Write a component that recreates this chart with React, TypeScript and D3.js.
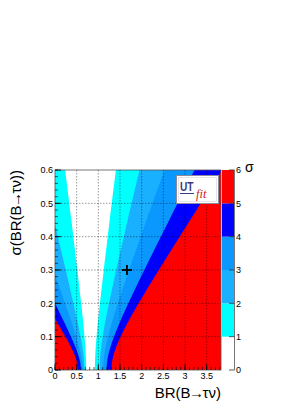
import React from "react";
import * as d3 from "d3";

// sigma-level contour boundaries (x = BR in 1e-4)
const yLevels = [0, 0.025, 0.05, 0.075, 0.1, 0.15, 0.2, 0.3, 0.45, 0.6];
const left1 = [0.72, 0.717, 0.709, 0.697, 0.681, 0.645, 0.603, 0.515, 0.377, 0.235];
const right1 = [0.92, 0.923, 0.931, 0.943, 0.959, 0.995, 1.037, 1.125, 1.263, 1.405];
const left2 = [0.68, 0.673, 0.652, 0.623, 0.588, 0.509, 0.424, 0.248, -0.024, -0.299];
const right2 = [1.03, 1.035, 1.049, 1.072, 1.1, 1.168, 1.245, 1.413, 1.678, 1.95];
const left3 = [0.64, 0.627, 0.592, 0.543, 0.487, 0.363, 0.232, -0.039, -0.453, -0.87];
const right3 = [1.11, 1.118, 1.142, 1.178, 1.223, 1.33, 1.451, 1.709, 2.113, 2.525];
const left4 = [0.6, 0.579, 0.524, 0.451, 0.368, 0.188, 0.0, -0.385, -0.97, -1.56];
const right4 = [1.19, 1.203, 1.239, 1.294, 1.361, 1.519, 1.692, 2.061, 2.636, 3.219];
const left5 = [0.53, 0.504, 0.437, 0.346, 0.242, 0.016, -0.221, -0.708, -1.45, -2.19];
const right5 = [1.3, 1.316, 1.361, 1.429, 1.513, 1.71, 1.929, 2.395, 3.12, 3.858];

const sigmaColors = ["#ffffff", "#00ffff", "#19b0ff", "#0a98ff", "#0000ff", "#ff0000"];
const xTicks = [0, 0.5, 1, 1.5, 2, 2.5, 3, 3.5];
const xTickLabels = ["0", "0.5", "1", "1.5", "2", "2.5", "3", "3.5"];
const yTicks = [0, 0.1, 0.2, 0.3, 0.4, 0.5, 0.6];
const yTickLabels = ["0", "0.1", "0.2", "0.3", "0.4", "0.5", "0.6"];
const zTicks = [0, 1, 2, 3, 4, 5, 6];
const marker = { x: 1.66, y: 0.3 };

const W = 289, H = 410;
const PL = 55, PR = 221, PT = 170, PB = 370;
const font = "'Liberation Sans', Arial, sans-serif";

function Decay() {
  return (
    <>
      BR(B<tspan dx={-1.5}>→</tspan>
      <tspan dx={-1.5}>τν)</tspan>
    </>
  );
}

export default function App() {
  const x = d3.scaleLinear().domain([0, 3.83]).range([PL, PR]);
  const y = d3.scaleLinear().domain([0, 0.6]).range([PB, PT]);
  const z = d3.scaleLinear().domain([0, 6]).range([PB, PT]);

  const bands = [
    [left5, right5],
    [left4, right4],
    [left3, right3],
    [left2, right2],
    [left1, right1],
  ];
  const area = d3
    .area<number>()
    .y((i) => y(yLevels[i]))
    .curve(d3.curveCatmullRom);

  const idx = yLevels.map((_, i) => i);

  const xMinor = d3.range(0, 3.83, 0.1);
  const yMinor = d3.range(0, 0.601, 0.02);

  return (
    <svg
      width={W}
      height={H}
      style={{ position: "absolute", left: 0, top: 0, background: "#fff" }}
      fontFamily={font}
    >
      <defs>
        <clipPath id="plotclip">
          <rect x={PL} y={PT} width={PR - PL} height={PB - PT} />
        </clipPath>
      </defs>
      <g clipPath="url(#plotclip)">
        <rect x={PL} y={PT} width={PR - PL} height={PB - PT} fill={sigmaColors[5]} />
        {bands.map(([L, R], k) => {
          const a = area.x0((i) => x(L[i])).x1((i) => x(R[i]));
          return <path key={k} d={a(idx) || ""} fill={sigmaColors[4 - k]} />;
        })}
        {/* grid */}
        {xTicks.slice(1).map((t) => (
          <line key={"gx" + t} x1={x(t)} x2={x(t)} y1={PT} y2={PB} stroke="#000" strokeOpacity={0.5} strokeWidth={0.8} strokeDasharray="1.5,1.5" />
        ))}
        {yTicks.slice(1, -1).map((t) => (
          <line key={"gy" + t} x1={PL} x2={PR} y1={y(t)} y2={y(t)} stroke="#000" strokeOpacity={0.5} strokeWidth={0.8} strokeDasharray="1.5,1.5" />
        ))}
      </g>
      {/* frame */}
      <rect x={PL} y={PT} width={PR - PL} height={PB - PT} fill="none" stroke="#555" strokeWidth={0.8} />
      {/* x axis ticks */}
      {xTicks.map((t) => (
        <line key={"xt" + t} x1={x(t)} x2={x(t)} y1={PB} y2={PB - 6} stroke="#000" strokeWidth={0.8} />
      ))}
      {xMinor.map((t, i) => (
        <line key={"xm" + i} x1={x(t)} x2={x(t)} y1={PB} y2={PB - 3} stroke="#000" strokeWidth={0.6} />
      ))}
      {xTicks.map((t, i) => (
        <text key={"xl" + t} x={x(t)} y={PB + 9} fontSize={9} textAnchor="middle">
          {xTickLabels[i]}
        </text>
      ))}
      {/* y axis ticks */}
      {yTicks.map((t) => (
        <line key={"yt" + t} x1={PL} x2={PL + 6} y1={y(t)} y2={y(t)} stroke="#000" strokeWidth={0.8} />
      ))}
      {yMinor.map((t, i) => (
        <line key={"ym" + i} x1={PL} x2={PL + 3} y1={y(t)} y2={y(t)} stroke="#000" strokeWidth={0.6} />
      ))}
      {yTicks.map((t, i) => (
        <text key={"yl" + t} x={PL - 2} y={y(t) + 3.2} fontSize={9} textAnchor="end">
          {yTickLabels[i]}
        </text>
      ))}
      {/* marker */}
      <g stroke="#000" strokeWidth={1.8}>
        <line x1={x(marker.x) - 5} x2={x(marker.x) + 5} y1={y(marker.y)} y2={y(marker.y)} />
        <line x1={x(marker.x)} x2={x(marker.x)} y1={y(marker.y) - 5} y2={y(marker.y) + 5} />
      </g>
      {/* UTfit logo */}
      <g>
        <rect x={176.5} y={175.5} width={42} height={28} fill="#fff" stroke="#8a8a9a" strokeWidth={1} />
        <rect x={178.5} y={177.5} width={38} height={24} fill="none" stroke="#d0d0e0" strokeWidth={0.6} />
        <text x={180} y={191} fontSize={13.5} fontWeight="bold" fill="#3a3a80" fontFamily={font} textLength={13.5} lengthAdjust="spacingAndGlyphs">
          UT
        </text>
        <line x1={180} x2={194} y1={193.5} y2={193.5} stroke="#3a3a80" strokeWidth={1} />
        <text x={196} y={198} fontSize={12.5} fontStyle="italic" fill="#d42020" fontFamily="'Liberation Serif', serif">
          fit
        </text>
      </g>
      {/* colour bar */}
      {sigmaColors.map((c, i) => (
        <rect key={"cb" + i} x={222} y={z(i + 1)} width={12} height={z(i) - z(i + 1)} fill={c} />
      ))}
      <line x1={234.5} x2={234.5} y1={PT} y2={PB} stroke="#555" strokeWidth={0.8} />
      {zTicks.map((t) => (
        <g key={"zt" + t}>
          <line x1={229} x2={234.5} y1={z(t)} y2={z(t)} stroke="#333" strokeWidth={0.8} />
          <text x={236} y={z(t) + 3.2} fontSize={9}>
            {t}
          </text>
        </g>
      ))}
      <text x={245} y={172} fontSize={14}>
        σ
      </text>
      {/* axis titles */}
      <text x={PR} y={398} fontSize={15} textAnchor="end">
        <Decay />
      </text>
      <text transform={`translate(21,${PT}) rotate(-90)`} fontSize={15} textAnchor="end">
        σ(<Decay />)
      </text>
    </svg>
  );
}
